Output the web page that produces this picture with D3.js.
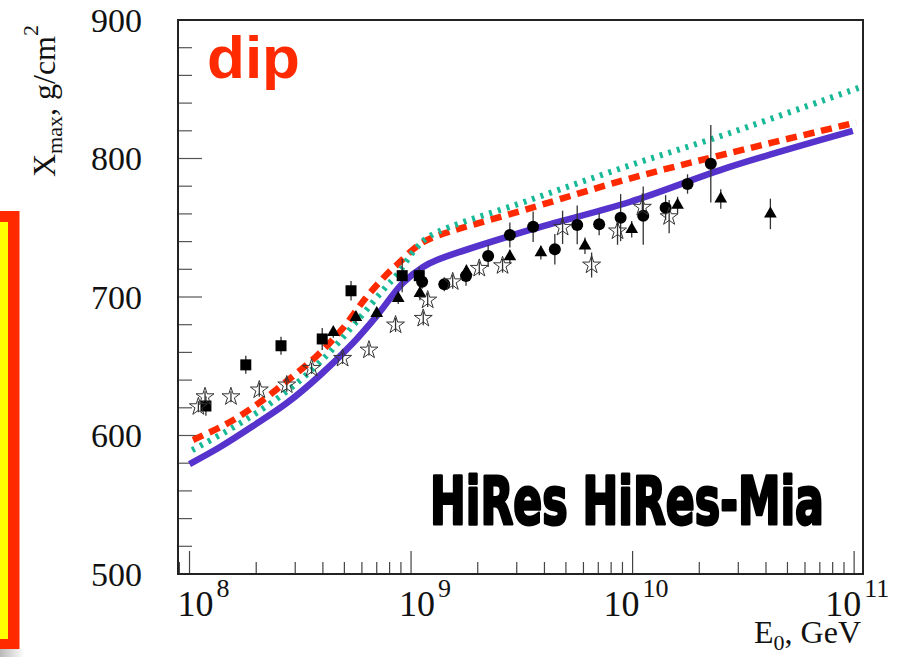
<!DOCTYPE html>
<html>
<head>
<meta charset="utf-8">
<script src="https://cdn.jsdelivr.net/npm/d3@7"></script>
<style>
  html, body { margin: 0; padding: 0; background: #fff; }
  svg { display: block; }
</style>
</head>
<body>
<svg id="chart" width="912" height="657"></svg>
<script>
// ---- axis tick values ----
const xTickExponents = [8, 9, 10, 11];
const yTickValues = [500, 600, 700, 800, 900];

// ---- model curves: [log10(E0 / GeV), Xmax in g/cm^2] ----
const modelSolid = [
  [8.000, 579.4], [8.138, 591.7], [8.287, 606.9], [8.440, 623.5], [8.589, 643.5],
  [8.738, 666.8], [8.846, 686.6], [8.963, 710.1], [9.054, 721.7], [9.117, 726.7],
  [9.536, 748.4], [9.987, 768.6], [10.439, 793.9], [10.994, 819.9]
];
const modelDashed = [
  [8.016, 596.8], [8.174, 609.0], [8.314, 623.5], [8.445, 640.0], [8.576, 657.7],
  [8.693, 677.6], [8.792, 698.6], [8.896, 717.3], [8.950, 725.3], [9.017, 735.4],
  [9.085, 742.0], [9.536, 764.0], [9.987, 785.5], [10.439, 804.0], [10.944, 823.5],
  [11.010, 826.0]
];
const modelDotted = [
  [8.012, 589.5], [8.161, 602.5], [8.309, 617.0], [8.463, 635.0], [8.620, 658.0],
  [8.760, 683.4], [8.882, 706.5], [8.936, 716.0], [9.017, 734.0], [9.085, 744.0],
  [9.536, 770.0], [9.987, 795.0], [10.439, 818.4], [11.020, 851.0]
];

// ---- measurements: [log10(E0 / GeV), Xmax, error] ----
const squarePoints = [
  [8.074, 621.3, 7], [8.254, 651.0, 6.5], [8.413, 664.8, 6.5], [8.599, 669.7, 8],
  [8.729, 704.5, 7], [8.960, 715.4, 12], [9.037, 715.4, 6]
];
const trianglePoints = [
  [8.649, 674.5, 4], [8.751, 685.3, 4], [8.845, 688.2, 4], [8.942, 699.0, 4],
  [9.040, 702.7, 5], [9.250, 718.3, 5], [9.446, 729.1, 5], [9.586, 732.0, 5],
  [9.785, 737.0, 6], [9.996, 748.9, 6], [10.203, 766.4, 6], [10.398, 770.8, 7],
  [10.622, 760.0, 11]
];
const circlePoints = [
  [9.050, 711.0, 5], [9.150, 709.2, 5], [9.248, 715.2, 7], [9.348, 729.6, 8],
  [9.446, 744.8, 9], [9.551, 750.8, 11], [9.649, 734.4, 11], [9.750, 752.0, 14],
  [9.849, 752.5, 8], [9.946, 757.3, 17], [10.048, 758.7, 21], [10.149, 764.5, 9],
  [10.248, 781.6, 7], [10.353, 796.2, 28]
];
const starPoints = [
  [8.040, 620.8, 4], [8.070, 628.0, 4], [8.187, 628.0, 4], [8.315, 632.9, 5],
  [8.439, 636.5, 5], [8.551, 648.5, 4], [8.691, 655.7, 4], [8.810, 661.7, 4],
  [8.930, 679.8, 5], [9.055, 684.6, 5], [9.075, 697.8, 5], [9.188, 711.0, 5],
  [9.308, 720.7, 5], [9.413, 722.6, 5], [9.684, 750.3, 12], [9.815, 723.1, 9],
  [9.932, 747.7, 10], [10.044, 764.8, 10], [10.165, 758.0, 12]
];

// ---- layout ----
const frame = { left: 178, right: 863, top: 20, bottom: 574 };
const svg = d3.select("#chart");

const x = d3.scaleLog()
  .domain([Math.pow(10, 7.948), Math.pow(10, 11.04)])
  .range([frame.left, frame.right]);
const y = d3.scaleLinear()
  .domain([500, 900])
  .range([frame.bottom, frame.top]);
const xe = lg => x(Math.pow(10, lg));

// ---- side panel (yellow box with red border, partly off page) ----
const defs = svg.append("defs");
const sh = defs.append("linearGradient").attr("id", "shadeGrad")
  .attr("x1", 0).attr("x2", 1).attr("y1", 0).attr("y2", 0);
sh.append("stop").attr("offset", "0%").attr("stop-color", "#b8b8b8");
sh.append("stop").attr("offset", "100%").attr("stop-color", "#ffffff");
svg.append("rect").attr("x", 0).attr("y", 649).attr("width", 24).attr("height", 8)
  .attr("fill", "url(#shadeGrad)");
svg.append("rect").attr("x", -10).attr("y", 211).attr("width", 29.5).attr("height", 438)
  .attr("fill", "#ff2a00");
svg.append("rect").attr("x", -10).attr("y", 222).attr("width", 18).attr("height", 417)
  .attr("fill", "#ffff00");

// ---- axis ticks ----
const g = svg.append("g");
const majorLen = 23, minorLen = 12;
const xTicks = x.ticks();
g.selectAll("line.xt").data(xTicks).join("line")
  .attr("x1", d => x(d)).attr("x2", d => x(d))
  .attr("y1", frame.bottom)
  .attr("y2", d => {
    const m = Math.round(d / Math.pow(10, Math.floor(Math.log10(d) + 1e-9)));
    return frame.bottom - (m === 1 ? majorLen : minorLen);
  })
  .attr("stroke", "#444").attr("stroke-width", 1.2);

const yTicks = y.ticks(20);
g.selectAll("line.yt").data(yTicks).join("line")
  .attr("x1", frame.left)
  .attr("x2", d => frame.left + (d % 100 === 0 ? 24 : 14))
  .attr("y1", d => y(d)).attr("y2", d => y(d))
  .attr("stroke", "#555").attr("stroke-width", 1.2);

// ---- tick labels ----
const serif = "'Liberation Serif', 'Times New Roman', serif";
svg.selectAll("text.ylab").data(yTickValues).join("text")
  .attr("x", 142).attr("y", d => y(d)).attr("dy", "0.35em")
  .attr("text-anchor", "end")
  .attr("font-family", serif).attr("font-size", 34).attr("fill", "#111")
  .text(d => d);

const xl = svg.selectAll("text.xlab").data(xTickExponents).join("text")
  .attr("x", d => x(Math.pow(10, d)) + (String(d).length > 1 ? -29 : -12))
  .attr("y", 616)
  .attr("font-family", serif).attr("font-size", 36).attr("fill", "#111");
xl.append("tspan").text("10");
xl.append("tspan").attr("font-size", 26).attr("dx", 3).attr("dy", -19).text(d => d);

// axis titles
const xt = svg.append("text").attr("x", 861).attr("y", 643).attr("text-anchor", "end")
  .attr("font-family", serif).attr("font-size", 32).attr("fill", "#111");
xt.append("tspan").text("E");
xt.append("tspan").attr("font-size", 22).attr("dy", 7).text("0");
xt.append("tspan").attr("dy", -7).text(", GeV");

const yt = svg.append("text").attr("transform", "translate(55,177) rotate(-90)")
  .attr("font-family", serif).attr("font-size", 32).attr("fill", "#111");
yt.append("tspan").text("X");
yt.append("tspan").attr("font-size", 22).attr("dy", 7).text("max");
yt.append("tspan").attr("dy", -7).text(", g/cm");
yt.append("tspan").attr("font-size", 22).attr("dy", -17).text("2");

// ---- model curves ----
const line = d3.line().x(d => xe(d[0])).y(d => y(d[1])).curve(d3.curveCatmullRom.alpha(0.5));
const curves = svg.append("g").attr("fill", "none");
curves.append("path").datum(modelSolid).attr("d", line)
  .attr("stroke", "#5533cc").attr("stroke-width", 6.5);
curves.append("path").datum(modelDashed).attr("d", line)
  .attr("stroke", "#ff2a00").attr("stroke-width", 6.5).attr("stroke-dasharray", "11,7");
curves.append("path").datum(modelDotted).attr("d", line)
  .attr("stroke", "#17b996").attr("stroke-width", 6).attr("stroke-dasharray", "3,6");

// ---- measurements ----
const pts = svg.append("g");
function errorBars(data) {
  pts.append("g").selectAll("line").data(data).join("line")
    .attr("x1", d => xe(d[0])).attr("x2", d => xe(d[0]))
    .attr("y1", d => y(d[1] - d[2])).attr("y2", d => y(d[1] + d[2]))
    .attr("stroke", "#333").attr("stroke-width", 1.3);
}
[squarePoints, trianglePoints, circlePoints, starPoints].forEach(errorBars);

pts.append("g").selectAll("rect").data(squarePoints).join("rect")
  .attr("x", d => xe(d[0]) - 5.5).attr("y", d => y(d[1]) - 5.5)
  .attr("width", 11).attr("height", 11).attr("fill", "#000");
pts.append("g").selectAll("path").data(trianglePoints).join("path")
  .attr("transform", d => `translate(${xe(d[0])},${y(d[1])})`)
  .attr("d", d3.symbol(d3.symbolTriangle, 70)).attr("fill", "#000");
pts.append("g").selectAll("circle").data(circlePoints).join("circle")
  .attr("cx", d => xe(d[0])).attr("cy", d => y(d[1])).attr("r", 6).attr("fill", "#000");
pts.append("g").selectAll("path").data(starPoints).join("path")
  .attr("transform", d => `translate(${xe(d[0])},${y(d[1])})`)
  .attr("d", d3.symbol(d3.symbolStar, 100))
  .attr("fill", "none").attr("stroke", "#333").attr("stroke-width", 1);

// ---- frame ----
svg.append("rect")
  .attr("x", frame.left).attr("y", frame.top)
  .attr("width", frame.right - frame.left).attr("height", frame.bottom - frame.top)
  .attr("fill", "none").attr("stroke", "#222").attr("stroke-width", 2);

// ---- annotations ----
svg.append("text").attr("x", 207).attr("y", 78)
  .attr("font-family", "'Liberation Sans', Arial, sans-serif").attr("font-weight", "bold")
  .attr("font-size", 60).attr("fill", "#ff2a00")
  .attr("textLength", 93).attr("lengthAdjust", "spacingAndGlyphs")
  .text("dip");

// heavy condensed label: natural-width text squeezed horizontally to 394 px
const exp = svg.append("text").attr("x", 0).attr("y", 0)
  .attr("font-family", "'DejaVu Sans', sans-serif").attr("font-weight", "bold")
  .attr("font-size", 66).attr("fill", "#000").attr("stroke", "#000").attr("stroke-width", 3)
  .attr("stroke-linejoin", "round")
  .text("HiRes HiRes-Mia");
const natural = exp.node().getComputedTextLength();
exp.attr("transform", `translate(430,524) scale(${394 / natural},1)`);
</script>
</body>
</html>
